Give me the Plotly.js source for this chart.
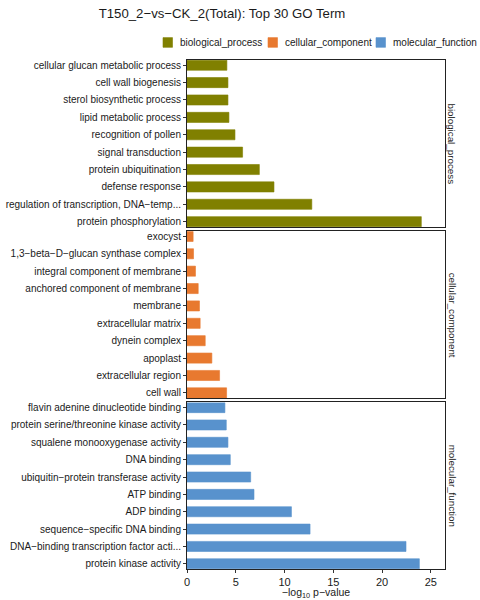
<!DOCTYPE html>
<html>
<head>
<meta charset="utf-8">
<script src="https://cdn.plot.ly/plotly-3.0.1.min.js"></script>
<style>html,body{margin:0;padding:0;background:#fff;}#chart{width:480px;height:600px;}</style>
</head>
<body>
<div id="chart"></div>
<script>
// Categories listed top-to-bottom as shown in each panel
const bpTerms = ["cellular glucan metabolic process","cell wall biogenesis","sterol biosynthetic process","lipid metabolic process","recognition of pollen","signal transduction","protein ubiquitination","defense response","regulation of transcription, DNA\u2212temp...","protein phosphorylation"];
const bpValues = [4.09, 4.2, 4.2, 4.3, 4.92, 5.7, 7.42, 8.92, 12.8, 24.03];

const ccTerms = ["exocyst","1,3\u2212beta\u2212D\u2212glucan synthase complex","integral component of membrane","anchored component of membrane","membrane","extracellular matrix","dynein complex","apoplast","extracellular region","cell wall"];
const ccValues = [0.63, 0.67, 0.87, 1.15, 1.28, 1.35, 1.87, 2.55, 3.34, 4.06];

const mfTerms = ["flavin adenine dinucleotide binding","protein serine/threonine kinase activity","squalene monooxygenase activity","DNA binding","ubiquitin\u2212protein transferase activity","ATP binding","ADP binding","sequence\u2212specific DNA binding","DNA\u2212binding transcription factor acti...","protein kinase activity"];
const mfValues = [3.89, 4.03, 4.2, 4.44, 6.53, 6.87, 10.71, 12.62, 22.46, 23.83];

const groupNames = ["biological_process","cellular_component","molecular_function"];
const groupColors = ["#808000","#E8792F","#5892CD"];
const xTicks = [0, 5, 10, 15, 20, 25];

const termsList = [bpTerms, ccTerms, mfTerms];
const valuesList = [bpValues, ccValues, mfValues];

const traces = termsList.map((terms, i) => ({
  type: "bar",
  orientation: "h",
  x: valuesList[i],
  y: terms,
  name: groupNames[i],
  xaxis: i === 0 ? "x" : "x" + (i + 1),
  yaxis: i === 0 ? "y" : "y" + (i + 1),
  width: 0.58,
  marker: {color: groupColors[i], line: {color: groupColors[i], width: 0.6}},
  showlegend: false,
  hoverinfo: "x+y"
}));

const font = "Liberation Sans, Arial, sans-serif";
const domains = [[0.6721, 1], [0.3358, 0.6637], [0, 0.3273]];

// plot-area geometry in pixels (for converting legend placement to paper coords)
const L = 187, R = 445, T = 59.7, B = 569;
const px2x = p => (p - L) / (R - L);
const px2y = p => (B - p) / (B - T);

const layout = {
  width: 480, height: 600,
  margin: {l: L, r: 480 - R, t: T, b: 600 - B, pad: 0},
  paper_bgcolor: "#fff", plot_bgcolor: "#fff",
  font: {family: font, size: 11, color: "#1a1a1a"},
  title: {text: "T150_2\u2212vs\u2212CK_2(Total): Top 30 GO Term", x: 222/480, xanchor: "center", y: 1 - 13/600, yanchor: "middle", font: {family: font, size: 13.2, color: "#1a1a1a"}},
  showlegend: false,
  annotations: [],
  shapes: []
};

for (let i = 0; i < 3; i++) {
  const xk = i === 0 ? "xaxis" : "xaxis" + (i + 1);
  const yk = i === 0 ? "yaxis" : "yaxis" + (i + 1);
  const yref = i === 0 ? "y" : "y" + (i + 1);
  const xref = i === 0 ? "x" : "x" + (i + 1);
  const isBottom = i === 2;
  layout[xk] = {
    domain: [0, 1], anchor: yref, range: [0, 26.46],
    tickvals: xTicks, ticktext: xTicks.map(String),
    showticklabels: isBottom, ticks: isBottom ? "outside" : "", ticklen: 3, tickcolor: "#333",
    tickfont: {family: font, size: 11, color: "#1a1a1a"},
    showgrid: false, zeroline: false, showline: true, linecolor: "#222", linewidth: 1, mirror: true,
    fixedrange: true
  };
  if (i > 0) layout[xk].matches = "x";
  if (isBottom) {
    layout[xk].title = {text: "\u2212log<sub>10</sub> p\u2212value", font: {family: font, size: 10.5, color: "#1a1a1a"}, standoff: 0};
  }
  layout[yk] = {
    domain: domains[i], anchor: xref,
    type: "category", categoryorder: "array", categoryarray: termsList[i],
    range: [9.3, -0.3],
    ticks: "outside", ticklen: 3, tickcolor: "#333",
    tickfont: {family: font, size: 10, color: "#1a1a1a"},
    showgrid: false, zeroline: false, showline: true, linecolor: "#222", linewidth: 1, mirror: true,
    fixedrange: true
  };
  layout.annotations.push({
    text: groupNames[i], xref: "paper", yref: "paper",
    x: px2x(452), xanchor: "center",
    y: (domains[i][0] + domains[i][1]) / 2, yanchor: "middle",
    textangle: 90, showarrow: false,
    font: {family: font, size: 9.8, color: "#1a1a1a"}
  });
}

// Legend (top, horizontal): key squares + labels
const legendKeyLeft = [163, 268, 376];
legendKeyLeft.forEach((kx, i) => {
  layout.shapes.push({
    type: "rect", xref: "paper", yref: "paper",
    x0: px2x(kx), x1: px2x(kx + 9.5), y0: px2y(47), y1: px2y(37.3),
    fillcolor: groupColors[i], line: {color: groupColors[i], width: 0.6}
  });
  layout.annotations.push({
    text: groupNames[i], xref: "paper", yref: "paper",
    x: px2x(kx + 14.5), xanchor: "left", y: px2y(42.2), yanchor: "middle",
    showarrow: false, font: {family: font, size: 10, color: "#1a1a1a"}
  });
});

Plotly.newPlot("chart", traces, layout, {displayModeBar: false, staticPlot: true});
</script>
</body>
</html>
